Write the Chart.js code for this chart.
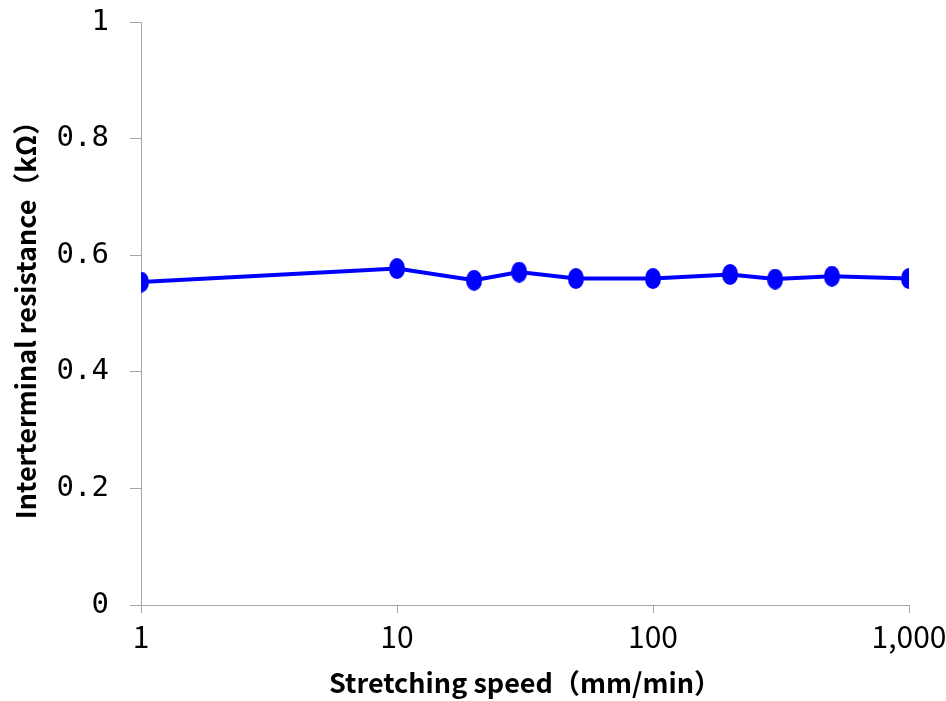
<!DOCTYPE html>
<html>
<head>
<meta charset="utf-8">
<script src="https://cdn.jsdelivr.net/npm/chart.js@4"></script>
<style>
html,body{margin:0;padding:0;background:#fff;}
#wrap{width:946px;height:701px;position:relative;}
</style>
</head>
<body>
<div id="wrap"><canvas id="c" width="946" height="701"></canvas></div>
<script>
const speeds = [1, 10, 20, 30, 50, 100, 200, 300, 500, 1000];
const resistance = [0.554, 0.577, 0.557, 0.571, 0.560, 0.560, 0.567, 0.559, 0.564, 0.560];
const xTickValues = [1, 10, 100, 1000];
const xTitle = 'Stretching speed（mm/min）';
const yTitle = 'Interterminal resistance（kΩ）';

const FONT = '"Noto Sans CJK JP", "Noto Sans", sans-serif';
const MONO = '"DejaVu Sans Mono", "Liberation Mono", monospace';
const axisColor = '#a6a6a6';

// ellipse marker
const marker = document.createElement('canvas');
marker.width = 16; marker.height = 21;
(function(){
  const g = marker.getContext('2d');
  g.fillStyle = '#0000ff';
  g.beginPath();
  g.ellipse(8, 10.5, 8, 10.5, 0, 0, Math.PI * 2);
  g.fill();
})();

const ctx = document.getElementById('c').getContext('2d');
new Chart(ctx, {
  type: 'line',
  data: {
    datasets: [{
      data: speeds.map((s, i) => ({x: s, y: resistance[i]})),
      borderColor: '#0000ff',
      backgroundColor: '#0000ff',
      borderWidth: 4,
      pointStyle: marker,
      pointRadius: 10,
      tension: 0
    }]
  },
  options: {
    responsive: false,
    animation: false,
    devicePixelRatio: 1,
    layout: {padding: {left: 10, right: 37, top: 22, bottom: 0}},
    plugins: {legend: {display: false}, tooltip: {enabled: false}},
    scales: {
      x: {
        type: 'logarithmic',
        min: 1, max: 1000,
        afterBuildTicks: (axis) => { axis.ticks = xTickValues.map(v => ({value: v})); },
        afterFit: (axis) => { axis.height = 96; axis.paddingLeft = 0; axis.paddingRight = 0; },
        ticks: {
          color: '#000',
          font: {family: FONT, size: 30},
          padding: 6,
          maxRotation: 0,
          autoSkip: false,
          callback: (v) => Number(v).toLocaleString('en-US')
        },
        grid: {display: true, drawOnChartArea: false, drawTicks: true, tickLength: 8, color: axisColor, lineWidth: 1},
        border: {display: true, color: axisColor, width: 1},
        title: {display: true, text: xTitle, color: '#000', font: {family: FONT, size: 27, weight: 'bold'}, padding: {top: 0, bottom: 2}}
      },
      y: {
        min: 0, max: 1,
        afterFit: (axis) => { axis.width = 131; axis.paddingTop = 0; axis.paddingBottom = 0; },
        ticks: {
          stepSize: 0.2,
          color: '#000',
          font: {family: MONO, size: 29},
          padding: 21,
          callback: (v) => String(Number(Number(v).toFixed(1)))
        },
        grid: {display: true, drawOnChartArea: false, drawTicks: true, tickLength: 11, color: axisColor, lineWidth: 1},
        border: {display: true, color: axisColor, width: 1},
        title: {display: true, text: yTitle, color: '#000', font: {family: FONT, size: 27, weight: 'bold'}, padding: {top: 0, bottom: 0}}
      }
    }
  }
});
</script>
</body>
</html>
